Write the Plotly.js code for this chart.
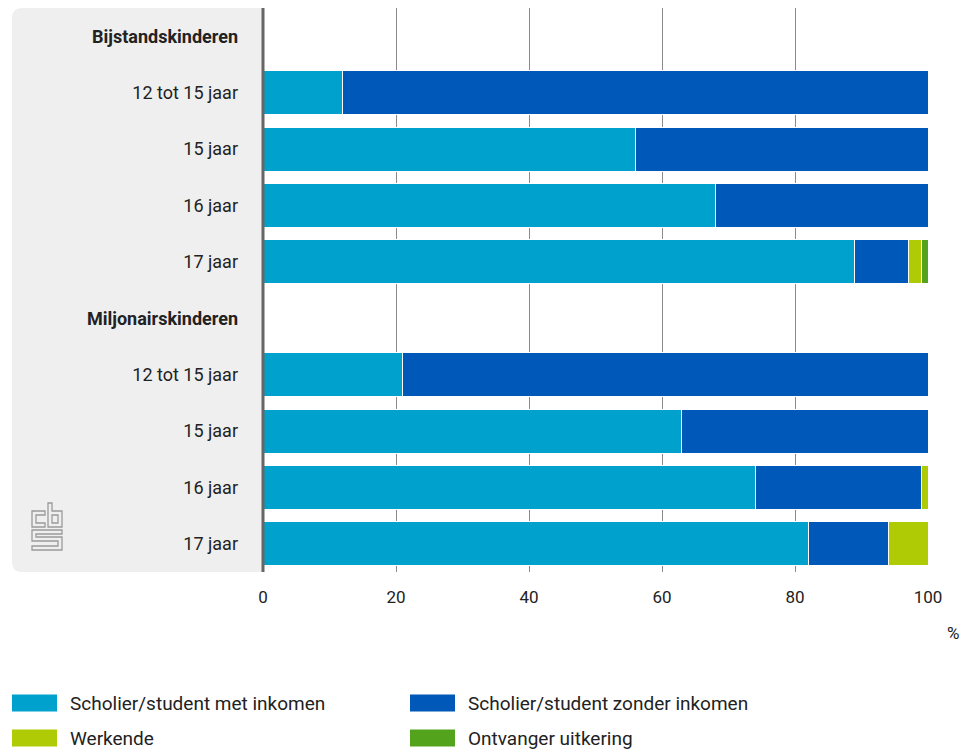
<!DOCTYPE html>
<html><head><meta charset="utf-8">
<script src="https://cdn.plot.ly/plotly-3.0.1.min.js"></script>
<style>html,body{margin:0;padding:0;background:#fff}#chart{width:968px;height:751px}</style>
</head><body><div id="chart"></div>
<script>
// ---- data ----
const rowLabels = ["Bijstandskinderen","12 tot 15 jaar","15 jaar","16 jaar","17 jaar",
                   "Miljonairskinderen","12 tot 15 jaar","15 jaar","16 jaar","17 jaar"];
const headerRows = [true,false,false,false,false,true,false,false,false,false];
const seriesNames = ["Scholier/student met inkomen","Scholier/student zonder inkomen","Werkende","Ontvanger uitkering"];
const metInkomen    = [null,12,56,68,89,null,21,63,74,82];
const zonderInkomen = [null,88,44,32, 8,null,79,37,25,12];
const werkende      = [null,null,null,null,2,null,null,null,1,6];
const uitkering     = [null,null,null,null,1,null,null,null,null,null];
const xTicks = [0,20,40,60,80,100];

// ---- styling ----
const colors = ["#00a1cd","#0058b8","#afcb05","#53a31d"];
const FONT = "Roboto, 'Open Sans', sans-serif";
const W = 968, H = 751, L = 263, R = 928, T = 8, B = 572;
const px = x => (x - L) / (R - L);
const py = y => (B - y) / (B - T);

const rows = rowLabels.map((_, i) => i);
const values = [metInkomen, zonderInkomen, werkende, uitkering];
const traces = values.map((v, k) => ({
  type: "bar", orientation: "h", name: seriesNames[k],
  x: v, y: rows,
  marker: {color: colors[k], line: {color: "#ffffff", width: 1}},
  showlegend: false, hoverinfo: "x+name"
}));

const ticktext = rowLabels.map((t, i) => headerRows[i] ? "<b>" + t + "</b>" : t);

const shapes = [];
// grey label panel with rounded left corners
const r = 10;
shapes.push({
  type: "path", xref: "paper", yref: "paper", layer: "below",
  path: `M ${px(262)} ${py(T)} L ${px(12 + r)} ${py(T)} Q ${px(12)} ${py(T)} ${px(12)} ${py(T + r)} L ${px(12)} ${py(B - r)} Q ${px(12)} ${py(B)} ${px(12 + r)} ${py(B)} L ${px(262)} ${py(B)} Z`,
  fillcolor: "#efefef", line: {width: 0}
});
// vertical axis line
shapes.push({type: "line", xref: "paper", yref: "paper", x0: 0, x1: 0, y0: 0, y1: 1,
  line: {color: "#666666", width: 3}, layer: "above"});

// cbs logo (approximate)
const logoPaths = [
  "M45,511 L32,511 L32,527 L45,527 L45,523 L36,523 L36,515 L45,515 Z",
  "M48,503 L52,503 L52,511 L62,511 L62,527 L48,527 Z",
  "M52,515 L58,515 L58,523 L52,523 Z",
  "M32,530 L62,530 L62,534 L36,534 L36,537 L62,537 L62,550 L32,550 L32,546 L58,546 L58,541 L32,541 Z"
];
logoPaths.forEach(p => {
  const conv = p.replace(/(-?\d+(?:\.\d+)?),(-?\d+(?:\.\d+)?)/g, (m, a, b) => px(+a) + "," + py(+b))
                .replace(/,/g, " ");
  shapes.push({type: "path", xref: "paper", yref: "paper", path: conv,
    line: {color: "#9a9a9a", width: 1.3}, fillcolor: "rgba(0,0,0,0)", layer: "above"});
});

// custom legend
const annotations = [];
const legPos = [[12, 703], [410, 703], [12, 738], [410, 738]];
seriesNames.forEach((n, k) => {
  const [lx, ly] = legPos[k];
  shapes.push({type: "rect", xref: "paper", yref: "paper",
    x0: px(lx), x1: px(lx + 45), y0: py(ly - 8.5), y1: py(ly + 8.5),
    fillcolor: colors[k], line: {width: 0}});
  annotations.push({xref: "paper", yref: "paper", x: px(lx + 56), y: py(ly),
    xanchor: "left", yanchor: "middle", text: n, showarrow: false,
    font: {family: FONT, size: 19, color: "#222"}});
});
annotations.push({xref: "paper", yref: "paper", x: px(953), y: py(633),
  xanchor: "center", yanchor: "middle", text: "%", showarrow: false,
  font: {family: FONT, size: 17, color: "#222"}});

const layout = {
  width: W, height: H,
  margin: {l: L, r: W - R, t: T, b: H - B},
  paper_bgcolor: "#ffffff", plot_bgcolor: "rgba(0,0,0,0)",
  barmode: "stack", bargap: 0.22,
  font: {family: FONT, size: 18, color: "#222"},
  xaxis: {range: [0, 100], tickvals: xTicks, ticktext: xTicks.map(String),
    showgrid: true, gridcolor: "#8a8a8a", gridwidth: 1, zeroline: false,
    showline: false, ticks: "", ticklabelstandoff: 13,
    tickfont: {family: FONT, size: 17, color: "#222"}, fixedrange: true},
  yaxis: {range: [9.5, -0.5], tickvals: rows, ticktext: ticktext,
    showgrid: false, zeroline: false, showline: false, ticks: "",
    ticklabelstandoff: 24, tickfont: {family: FONT, size: 18, color: "#222"}},
  shapes: shapes, annotations: annotations, showlegend: false
};
Plotly.newPlot("chart", traces, layout, {displayModeBar: false, staticPlot: true});
</script></body></html>
